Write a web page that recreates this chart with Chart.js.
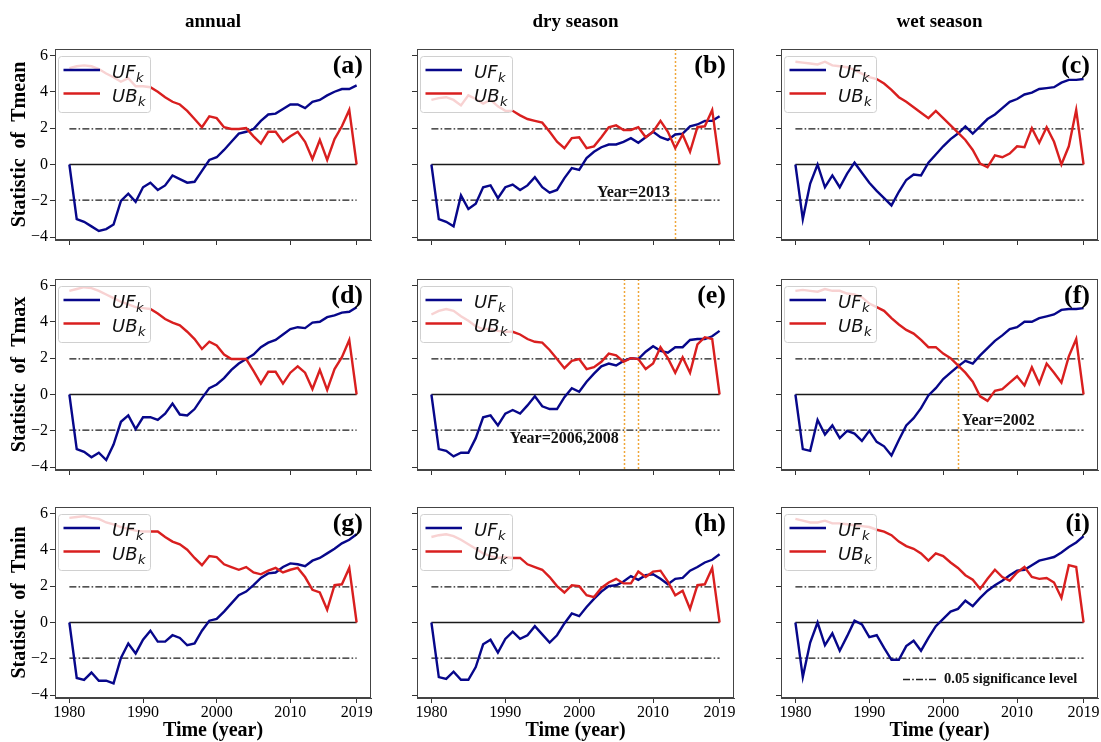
<!DOCTYPE html>
<html>
<head>
<meta charset="utf-8">
<script src="https://cdn.jsdelivr.net/npm/chart.js@4.4.1/dist/chart.umd.min.js"></script>
<style>
html, body { margin: 0; padding: 0; background: #fff; overflow: hidden; }
#fig { position: relative; width: 1101px; height: 742px; overflow: hidden; }
#fig canvas { position: absolute; }
</style>
</head>
<body>
<div id="fig"></div>
<script>
// data (Mann-Kendall UF / UB statistics)
const years = [1980,1981,1982,1983,1984,1985,1986,1987,1988,1989,
               1990,1991,1992,1993,1994,1995,1996,1997,1998,1999,
               2000,2001,2002,2003,2004,2005,2006,2007,2008,2009,
               2010,2011,2012,2013,2014,2015,2016,2017,2018,2019];
const xTicks = [1980, 1990, 2000, 2010, 2019];
const yTicks = [-4, -2, 0, 2, 4, 6];
const sigLevel = 1.96;
const seasons = ['annual', 'dry season', 'wet season'];
const variables = ['Tmean', 'Tmax', 'Tmin'];

// Tmean
const ufA = [0,-3.0,-3.15,-3.4,-3.65,-3.55,-3.3,-2.0,-1.6,-2.05,-1.25,-1.0,-1.4,-1.15,-0.6,-0.8,-1.0,-0.95,-0.35,0.25,0.4,0.8,1.25,1.7,1.8,1.95,2.4,2.75,2.8,3.05,3.3,3.3,3.1,3.45,3.55,3.8,4.0,4.15,4.15,4.35];
const ubA = [5.3,5.4,5.45,5.4,5.25,5.0,4.8,4.55,4.75,4.3,4.3,4.25,4.0,3.7,3.45,3.3,2.95,2.5,2.05,2.65,2.55,2.05,1.95,1.95,2.0,1.55,1.15,1.8,1.8,1.25,1.55,1.8,1.25,0.3,1.35,0.25,1.4,2.1,3.0,0];
const ufB = [0,-3.0,-3.15,-3.4,-1.7,-2.45,-2.15,-1.25,-1.15,-1.85,-1.25,-1.1,-1.4,-1.15,-0.7,-1.25,-1.55,-1.4,-0.75,-0.2,-0.3,0.35,0.7,0.95,1.1,1.1,1.25,1.45,1.2,1.5,1.8,1.5,1.35,1.65,1.7,2.1,2.2,2.4,2.4,2.65];
const ubB = [3.55,3.65,3.7,3.55,3.25,3.8,3.6,3.35,3.55,3.2,2.95,2.95,2.7,2.5,2.4,2.3,1.8,1.25,0.9,1.45,1.5,0.9,1.0,1.5,2.05,2.15,1.9,1.9,2.05,1.5,1.8,2.4,1.8,0.9,1.65,0.7,2.05,2.1,3.0,0];
const ufC = [0,-3.0,-1.05,0.0,-1.25,-0.6,-1.25,-0.5,0.1,-0.45,-1.0,-1.45,-1.85,-2.25,-1.5,-0.85,-0.55,-0.6,0.1,0.55,1.0,1.4,1.7,2.1,1.7,2.1,2.5,2.75,3.1,3.45,3.6,3.85,3.95,4.15,4.2,4.25,4.5,4.65,4.65,4.7];
const ubC = [5.65,5.6,5.55,5.5,5.65,5.45,5.4,5.35,5.2,5.0,4.8,4.7,4.45,4.1,3.7,3.45,3.15,2.85,2.55,2.95,2.55,2.15,1.75,1.35,0.8,0.05,-0.15,0.5,0.4,0.6,1.0,0.95,2.0,1.2,2.05,1.25,0,1.0,3.0,0];
// Tmax
const ufD = [0,-3.0,-3.15,-3.45,-3.2,-3.6,-2.75,-1.5,-1.15,-1.9,-1.25,-1.25,-1.4,-1.05,-0.5,-1.1,-1.15,-0.8,-0.2,0.35,0.55,0.9,1.35,1.7,1.95,2.2,2.6,2.85,3.0,3.3,3.6,3.7,3.65,3.95,4.0,4.25,4.35,4.5,4.55,4.8];
const ubD = [5.7,5.8,5.9,5.85,5.7,5.5,5.3,5.1,4.95,4.8,4.75,4.7,4.45,4.15,3.95,3.8,3.45,3.05,2.5,2.9,2.7,2.2,1.95,1.95,1.95,1.3,0.6,1.25,1.25,0.6,1.2,1.55,1.2,0.3,1.35,0.25,1.4,2.05,3.0,0];
const ufE = [0,-3.0,-3.1,-3.4,-3.2,-3.2,-2.4,-1.25,-1.15,-1.7,-1.05,-0.85,-1.05,-0.6,-0.1,-0.65,-0.8,-0.8,-0.15,0.35,0.15,0.7,1.15,1.55,1.7,1.6,1.85,2.0,1.95,2.35,2.65,2.4,2.3,2.6,2.6,3.0,3.05,3.05,3.2,3.5];
const ubE = [4.4,4.6,4.7,4.6,4.3,4.05,3.75,3.6,3.6,3.5,3.45,3.45,3.3,3.05,2.9,2.85,2.45,1.95,1.45,1.85,1.95,1.4,1.5,1.8,2.25,2.15,1.8,2.0,1.95,1.4,1.7,2.6,2.0,1.2,2.05,1.2,2.75,3.15,3.05,0];
const ufF = [0,-3.0,-3.1,-1.4,-2.2,-1.7,-2.4,-2.0,-2.15,-2.55,-2.0,-2.6,-2.85,-3.35,-2.5,-1.7,-1.3,-0.75,-0.05,0.35,0.85,1.2,1.55,1.85,1.7,2.15,2.55,2.95,3.25,3.6,3.7,4.0,4.0,4.2,4.3,4.4,4.65,4.7,4.7,4.75];
const ubF = [5.7,5.75,5.7,5.65,5.8,5.7,5.7,5.55,5.5,5.35,5.0,4.8,4.6,4.2,3.85,3.55,3.35,3.0,2.6,2.6,2.25,2.0,1.6,1.2,0.7,-0.1,-0.35,0.2,0.3,0.65,1.0,0.5,1.5,0.6,1.7,1.2,0.65,2.1,3.05,0];
// Tmin
const ufG = [0,-3.05,-3.15,-2.75,-3.2,-3.2,-3.35,-1.95,-1.15,-1.7,-0.95,-0.45,-1.05,-1.05,-0.7,-0.85,-1.25,-1.15,-0.45,0.1,0.2,0.6,1.05,1.5,1.7,2.05,2.45,2.7,2.75,3.05,3.25,3.2,3.1,3.4,3.55,3.8,4.05,4.35,4.55,4.85];
const ubG = [5.75,5.8,5.85,5.75,5.7,5.5,5.4,5.25,5.15,5.05,5.0,5.0,5.0,4.7,4.45,4.3,4.0,3.55,3.15,3.65,3.6,3.2,3.05,2.9,3.05,2.75,2.65,2.85,3.0,2.75,2.9,3.0,2.5,1.8,1.65,0.7,2.05,2.1,3.0,0];
const ufH = [0,-3.0,-3.1,-2.7,-3.15,-3.15,-2.45,-1.2,-0.95,-1.65,-0.9,-0.5,-0.9,-0.7,-0.2,-0.65,-1.1,-0.7,-0.05,0.5,0.35,0.85,1.3,1.7,2.0,2.05,2.25,2.55,2.35,2.6,2.65,2.4,2.1,2.4,2.45,2.85,3.05,3.3,3.45,3.75];
const ubH = [4.7,4.8,4.85,4.75,4.55,4.3,4.05,3.8,3.65,3.55,3.6,3.55,3.55,3.2,3.05,2.9,2.5,2.0,1.65,2.05,2.0,1.5,1.4,1.9,2.2,2.4,2.15,2.15,2.8,2.5,2.8,2.85,2.25,1.5,1.75,0.75,2.05,2.1,3.0,0];
const ufI = [0,-3.0,-1.1,0.0,-1.25,-0.6,-1.55,-0.75,0.1,-0.1,-0.8,-0.7,-1.4,-2.05,-2.05,-1.3,-1.0,-1.55,-0.85,-0.2,0.2,0.6,0.75,1.2,0.9,1.35,1.75,2.05,2.3,2.6,2.85,2.9,3.15,3.4,3.5,3.6,3.85,4.15,4.4,4.75];
const ubI = [5.7,5.6,5.5,5.5,5.6,5.45,5.45,5.4,5.35,5.3,5.25,5.1,5.0,4.8,4.45,4.2,4.05,3.8,3.4,3.8,3.65,3.3,3.0,2.6,2.35,1.85,2.4,2.9,2.5,2.3,2.75,3.05,2.5,2.4,2.45,2.2,1.35,3.15,3.05,0];

// abrupt change years
const changeB = [2013];
const changeE = [2006, 2008];
const changeF = [2002];

// layout of the 3x3 grid (plot frames in page pixels)
const colL = [55, 417, 781], colR = [371, 734, 1098];
const rowT = [49, 279, 507], rowB = [240, 470, 698];
const PAD_L = 55, PAD_T = 49, PAD_R = 4, PAD_B = 44;
const NAVY = '#07078a', RED = '#d91f1f', ORANGE = '#f0a63a';
const SERIF = 'Liberation Serif';
const DASHDOT = [7, 2.2, 1.6, 2.2];

const panels = [
  { tag: '(a)', row: 0, col: 0, uf: ufA, ub: ubA },
  { tag: '(b)', row: 0, col: 1, uf: ufB, ub: ubB, change: changeB, note: { text: 'Year=2013', x: 2002.4, y: -1.55 } },
  { tag: '(c)', row: 0, col: 2, uf: ufC, ub: ubC },
  { tag: '(d)', row: 1, col: 0, uf: ufD, ub: ubD },
  { tag: '(e)', row: 1, col: 1, uf: ufE, ub: ubE, change: changeE, note: { text: 'Year=2006,2008', x: 1990.6, y: -2.42 } },
  { tag: '(f)', row: 1, col: 2, uf: ufF, ub: ubF, change: changeF, note: { text: 'Year=2002', x: 2002.5, y: -1.45 } },
  { tag: '(g)', row: 2, col: 0, uf: ufG, ub: ubG },
  { tag: '(h)', row: 2, col: 1, uf: ufH, ub: ubH },
  { tag: '(i)', row: 2, col: 2, uf: ufI, ub: ubI, sigLegend: true }
];

function drawSubLabel(ctx, base, sub, x, y) {
  ctx.font = 'italic 18px "DejaVu Sans"';
  ctx.textBaseline = 'alphabetic';
  ctx.textAlign = 'left';
  ctx.fillText(base, x, y);
  const w = ctx.measureText(base).width;
  ctx.font = 'italic 13px "DejaVu Sans"';
  ctx.fillText(sub, x + w + 0.5, y + 4);
}

const decor = {
  id: 'decor',
  beforeDatasetsDraw(chart, args, o) {
    const { ctx, chartArea: a, scales: { x } } = chart;
    if (!o.change) return;
    ctx.save();
    ctx.strokeStyle = ORANGE;
    ctx.lineWidth = 1.5;
    ctx.setLineDash([2, 2]);
    o.change.forEach(yr => {
      const px = Math.round(x.getPixelForValue(yr)) + 0.5;
      ctx.beginPath();
      ctx.moveTo(px, a.top);
      ctx.lineTo(px, a.bottom);
      ctx.stroke();
    });
    ctx.restore();
  },
  afterDatasetsDraw(chart, args, o) {
    const { ctx, chartArea: a, scales: { x, y } } = chart;
    ctx.save();

    // change-year note
    if (o.note) {
      ctx.font = 'bold 16px "' + SERIF + '"';
      ctx.fillStyle = '#111';
      ctx.textAlign = 'left';
      ctx.textBaseline = 'middle';
      ctx.fillText(o.note.text, x.getPixelForValue(o.note.x), y.getPixelForValue(o.note.y));
    }

    // legend box (upper left)
    const lx = a.left + 3.5, ly = a.top + 7.5, lw = 92, lh = 56;
    ctx.fillStyle = 'rgba(255,255,255,0.8)';
    ctx.strokeStyle = '#d0d0d0';
    ctx.lineWidth = 1;
    ctx.beginPath();
    ctx.roundRect(lx, ly, lw, lh, 3);
    ctx.fill();
    ctx.stroke();
    const items = [[NAVY, 'UF', a.top + 21], [RED, 'UB', a.top + 44.5]];
    items.forEach(([c, t, yy]) => {
      ctx.strokeStyle = c;
      ctx.lineWidth = 2.6;
      ctx.beginPath();
      ctx.moveTo(a.left + 8.5, yy);
      ctx.lineTo(a.left + 45, yy);
      ctx.stroke();
      ctx.fillStyle = '#111';
      drawSubLabel(ctx, t, 'k', a.left + 57, yy + 8.3);
    });

    // significance legend (panel i)
    if (o.sigLegend) {
      const sy = a.bottom - 18.5;
      ctx.strokeStyle = '#222';
      ctx.lineWidth = 1.3;
      ctx.setLineDash(DASHDOT);
      ctx.beginPath();
      ctx.moveTo(a.right - 195, sy);
      ctx.lineTo(a.right - 161, sy);
      ctx.stroke();
      ctx.setLineDash([]);
      ctx.font = 'bold 14.5px "' + SERIF + '"';
      ctx.fillStyle = '#111';
      ctx.textAlign = 'left';
      ctx.textBaseline = 'middle';
      ctx.fillText('0.05 significance level', a.right - 154, sy);
    }

    // full frame
    ctx.strokeStyle = '#444';
    ctx.lineWidth = 1;
    ctx.strokeRect(a.left + 0.5, a.top + 0.5, a.right - a.left - 1, a.bottom - a.top - 1);

    // panel tag
    ctx.font = 'bold 26px "' + SERIF + '"';
    ctx.fillStyle = '#000';
    ctx.textAlign = 'right';
    ctx.textBaseline = 'middle';
    ctx.fillText(o.tag, a.right - 8, a.top + 17);

    // column title
    if (o.colTitle) {
      ctx.font = 'bold 19px "' + SERIF + '"';
      ctx.textAlign = 'center';
      ctx.textBaseline = 'middle';
      ctx.fillText(o.colTitle, (a.left + a.right) / 2, a.top - 27);
    }
    ctx.restore();
  }
};

const fig = document.getElementById('fig');
const minus = v => (v < 0 ? '\u2212' + (-v) : String(v));
const axisGrid = { display: true, drawOnChartArea: false, drawTicks: true, tickLength: 5, color: '#333', lineWidth: 1 };
const axisBorder = { display: true, color: '#444', width: 1 };

panels.forEach(p => {
  const w = colR[p.col] - colL[p.col] + PAD_L + PAD_R;
  const h = rowB[p.row] - rowT[p.row] + PAD_T + PAD_B;
  const cv = document.createElement('canvas');
  cv.width = w;
  cv.height = h;
  cv.style.width = w + 'px';
  cv.style.height = h + 'px';
  cv.style.left = (colL[p.col] - PAD_L) + 'px';
  cv.style.top = (rowT[p.row] - PAD_T) + 'px';
  fig.appendChild(cv);

  const first = years[0], last = years[years.length - 1];
  const refLine = (val, dash) => ({
    data: [{ x: first, y: val }, { x: last, y: val }],
    borderColor: '#1a1a1a', borderWidth: 1.3, borderDash: dash,
    pointRadius: 0, order: 3
  });

  new Chart(cv.getContext('2d'), {
    type: 'line',
    data: {
      datasets: [
        { label: 'UB', data: years.map((yr, i) => ({ x: yr, y: p.ub[i] })), borderColor: RED, borderWidth: 2.4, pointRadius: 0, tension: 0, order: 0 },
        { label: 'UF', data: years.map((yr, i) => ({ x: yr, y: p.uf[i] })), borderColor: NAVY, borderWidth: 2.4, pointRadius: 0, tension: 0, order: 1 },
        refLine(0, []),
        refLine(sigLevel, DASHDOT),
        refLine(-sigLevel, DASHDOT)
      ]
    },
    options: {
      responsive: false,
      animation: false,
      devicePixelRatio: 1,
      layout: { padding: { left: 0, top: PAD_T, right: PAD_R, bottom: 0 } },
      plugins: {
        legend: { display: false },
        tooltip: { enabled: false },
        decor: {
          tag: p.tag, change: p.change, note: p.note, sigLegend: p.sigLegend,
          colTitle: p.row === 0 ? seasons[p.col] : null
        }
      },
      scales: {
        x: {
          type: 'linear', min: 1978.05, max: 2020.95,
          afterBuildTicks: s => { s.ticks = xTicks.map(v => ({ value: v })); },
          afterFit: s => { s.height = PAD_B; s.paddingLeft = 0; s.paddingRight = 0; },
          ticks: {
            display: p.row === 2, autoSkip: false, maxRotation: 0, padding: 0,
            color: '#000', font: { family: SERIF, size: 16 },
            callback: v => String(v)
          },
          grid: axisGrid,
          border: axisBorder,
          title: {
            display: p.row === 2, text: 'Time (year)', color: '#000',
            font: { family: SERIF, size: 20, weight: 'bold', lineHeight: 1 },
            padding: { top: 0, bottom: 1 }
          }
        },
        y: {
          min: -4.15, max: 6.35,
          afterBuildTicks: s => { s.ticks = yTicks.map(v => ({ value: v })); },
          afterFit: s => { s.width = PAD_L; s.paddingTop = 0; s.paddingBottom = 0; },
          ticks: {
            display: p.col === 0, padding: 2, color: '#000',
            font: { family: SERIF, size: 16 },
            callback: minus
          },
          grid: axisGrid,
          border: axisBorder,
          title: {
            display: p.col === 0, text: 'Statistic  of  ' + variables[p.row], color: '#000',
            font: { family: SERIF, size: 20, weight: 'bold', lineHeight: 1.2 },
            padding: { top: 8, bottom: 0 }
          }
        }
      }
    },
    plugins: [decor]
  });
});
</script>
</body>
</html>
